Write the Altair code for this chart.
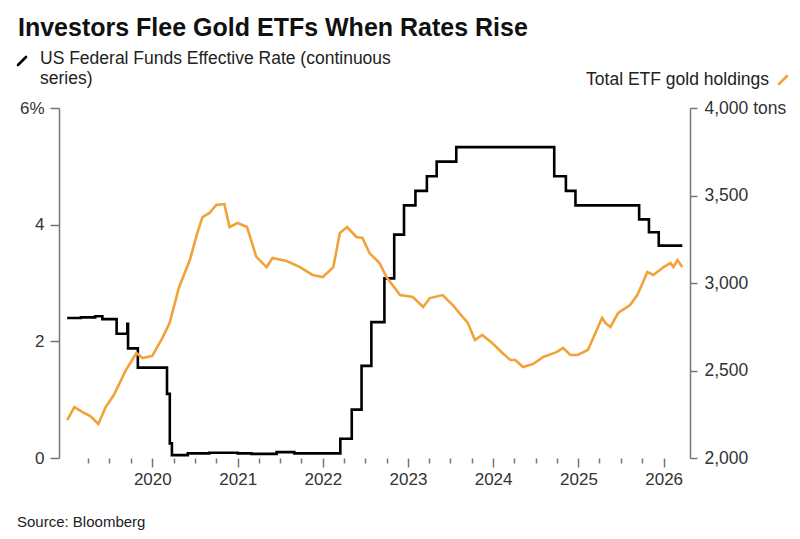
import altair as alt
import pandas as pd

# ---------------- data ----------------
fed_dates = ["2019-01-01", "2019-03-01", "2019-05-01", "2019-06-01", "2019-08-01",
             "2019-09-16", "2019-09-19", "2019-10-31", "2020-03-04", "2020-03-16",
             "2020-03-25", "2020-06-01", "2020-09-01", "2021-01-01", "2021-03-01",
             "2021-06-17", "2021-09-01", "2022-03-17", "2022-05-05", "2022-06-16",
             "2022-07-28", "2022-09-22", "2022-11-03", "2022-12-15", "2023-02-02",
             "2023-03-23", "2023-05-04", "2023-07-27", "2024-09-19", "2024-11-08",
             "2024-12-19", "2025-09-18", "2025-10-30", "2025-12-11", "2026-03-22"]
fed_rate = [2.40, 2.41, 2.43, 2.38, 2.13,
            2.30, 1.88, 1.55, 1.10, 0.25,
            0.05, 0.08, 0.09, 0.08, 0.07,
            0.10, 0.08, 0.33, 0.83, 1.58,
            2.33, 3.08, 3.83, 4.33, 4.58,
            4.83, 5.08, 5.33, 4.83, 4.58,
            4.33, 4.09, 3.87, 3.64, 3.64]

gold_dates = ["2019-01-01", "2019-02-01", "2019-03-15", "2019-04-10", "2019-05-15",
              "2019-06-15", "2019-07-20", "2019-09-10", "2019-10-25", "2019-11-20",
              "2020-01-01", "2020-02-15", "2020-03-15", "2020-04-25", "2020-06-10",
              "2020-07-12", "2020-08-03", "2020-09-02", "2020-10-01", "2020-11-05",
              "2020-11-27", "2021-01-01", "2021-02-10", "2021-03-22", "2021-05-05",
              "2021-05-30", "2021-07-30", "2021-09-25", "2021-11-18", "2022-01-01",
              "2022-02-15", "2022-03-15", "2022-04-15", "2022-05-25", "2022-06-20",
              "2022-07-20", "2022-09-01", "2022-10-01", "2022-11-28", "2023-01-22",
              "2023-03-07", "2023-04-05", "2023-05-30", "2023-07-12", "2023-09-15",
              "2023-10-15", "2023-11-15", "2023-12-28", "2024-02-10", "2024-03-15",
              "2024-04-05", "2024-05-08", "2024-06-20", "2024-08-03", "2024-10-01",
              "2024-10-27", "2024-11-27", "2024-12-28", "2025-02-10", "2025-03-07",
              "2025-04-12", "2025-04-27", "2025-05-18", "2025-06-20", "2025-08-10",
              "2025-09-10", "2025-10-05", "2025-10-23", "2025-11-18", "2026-01-01",
              "2026-01-30", "2026-02-12", "2026-03-01", "2026-03-22"]
gold_tons = [2217, 2291, 2257, 2240, 2194,
             2291, 2360, 2503, 2600, 2571,
             2583, 2691, 2771, 2977, 3131,
             3286, 3377, 3400, 3446, 3451,
             3320, 3343, 3320, 3149, 3091,
             3143, 3126, 3091, 3046, 3034,
             3091, 3286, 3320, 3263, 3257,
             3171, 3114, 3034, 2931, 2920,
             2863, 2914, 2931, 2874, 2771,
             2674, 2703, 2657, 2600, 2560,
             2560, 2520, 2537, 2577, 2606,
             2629, 2589, 2589, 2617, 2691,
             2800, 2771, 2749, 2829, 2874,
             2931, 3006, 3063, 3046, 3091,
             3114, 3091, 3131, 3091]

rate_ticks = [0, 2, 4, 6]
tons_ticks = [2000, 2500, 3000, 3500, 4000]

title_text = "Investors Flee Gold ETFs When Rates Rise"
fed_label = ["US Federal Funds Effective Rate (continuous", "series)"]
gold_label = "Total ETF gold holdings"
source_text = "Source: Bloomberg"

# ---------------- build ----------------
FONT = "Liberation Sans"
BLACK = "#000000"
ORANGE = "#F2A23A"
AX = "#777777"
TXT = "#222222"

fed_df = pd.DataFrame({"date": fed_dates, "rate": fed_rate})
gold_df = pd.DataFrame({"date": gold_dates, "tons": gold_tons})

def ms(s):
    return int(pd.Timestamp(s, tz="UTC").value // 10**6)

x_domain = [ms("2018-11-27"), ms("2026-04-24")]
quarters = [int(t.value // 10**6) for t in pd.date_range("2019-04-01", "2026-01-01", freq="QS", tz="UTC")]

x_enc = alt.X(
    "date:T",
    scale=alt.Scale(type="utc", domain=x_domain),
    axis=alt.Axis(
        values=quarters,
        title=None,
        domain=False,
        grid=False,
        labelExpr="utcmonth(datum.value) == 0 ? utcFormat(datum.value, '%Y') : ''",
        tickSize={"condition": {"test": "utcmonth(datum.value) == 0", "value": 9}, "value": 5},
        tickColor=AX,
        tickWidth=1.5,
        labelFontSize=17,
        labelColor="#333333",
        labelFont=FONT,
        labelPadding=4,
        labelFlush=False,
        labelOverlap=False,
    ),
)

fed = alt.Chart(fed_df).mark_line(
    color=BLACK, strokeWidth=2.6, interpolate="step-after"
).encode(
    x=x_enc,
    y=alt.Y(
        "rate:Q",
        scale=alt.Scale(domain=[0, 6], nice=False, zero=False),
        axis=alt.Axis(
            orient="left",
            values=rate_ticks,
            title=None,
            grid=False,
            domainColor=AX,
            domainWidth=1.5,
            tickColor=AX,
            tickWidth=1.5,
            tickSize=9,
            labelPadding=6,
            labelFontSize=17,
            labelColor="#333333",
            labelFont=FONT,
            labelExpr="datum.value == 6 ? '6%' : format(datum.value, 'd')",
        ),
    ),
)

gold = alt.Chart(gold_df).mark_line(
    color=ORANGE, strokeWidth=2.6, interpolate="linear"
).encode(
    x=x_enc,
    y=alt.Y(
        "tons:Q",
        scale=alt.Scale(domain=[2000, 4000], nice=False, zero=False),
        axis=alt.Axis(
            orient="right",
            values=tons_ticks,
            title=None,
            grid=False,
            domainColor=AX,
            domainWidth=1.5,
            tickColor=AX,
            tickWidth=1.5,
            tickSize=7,
            labelPadding=7,
            labelFontSize=17.5,
            labelColor="#333333",
            labelFont=FONT,
            labelExpr="datum.value == 4000 ? '4,000 tons' : format(datum.value, ',')",
        ),
    ),
)

def text_layer(txt, x, y, size, weight="normal", align="left", color=TXT, lh=None):
    kw = dict(align=align, baseline="alphabetic", fontSize=size, fontWeight=weight,
              font=FONT, color=color)
    if lh is not None:
        kw["lineHeight"] = lh
    return alt.Chart(pd.DataFrame({"t": [txt]})).mark_text(**kw).encode(
        text="t:N", x=alt.value(x), y=alt.value(y))

def swatch(x1, x2, y1, y2, color):
    return alt.Chart(pd.DataFrame({"k": [0]})).mark_rule(
        color=color, strokeWidth=2.6, strokeCap="round"
    ).encode(x=alt.value(x1), x2=alt.value(x2), y=alt.value(y1), y2=alt.value(y2))

title = text_layer(title_text, -41, -72, 25, weight="bold", color="#111111")
leg1a = text_layer(fed_label[0], -19, -44, 17.5)
leg1b = text_layer(fed_label[1], -19, -24, 17.5)
leg2 = text_layer(gold_label, 710, -23, 17.5, align="right")
src = text_layer(source_text, -42, 419, 15)
sw1 = swatch(-41, -33, -43, -51, BLACK)
sw2 = swatch(720, 728, -24, -32, ORANGE)

chart = alt.layer(
    fed, gold, title, leg1a, leg1b, leg2, src, sw1, sw2
).resolve_scale(y="independent").properties(
    width=631,
    height=350,
    autosize=alt.AutoSizeParams(type="none"),
    padding={"left": 51, "top": 100, "right": 102, "bottom": 73},
    background="white",
).configure_view(stroke=None)

chart.save("out.html", embed_options={"renderer": "svg", "actions": False})
